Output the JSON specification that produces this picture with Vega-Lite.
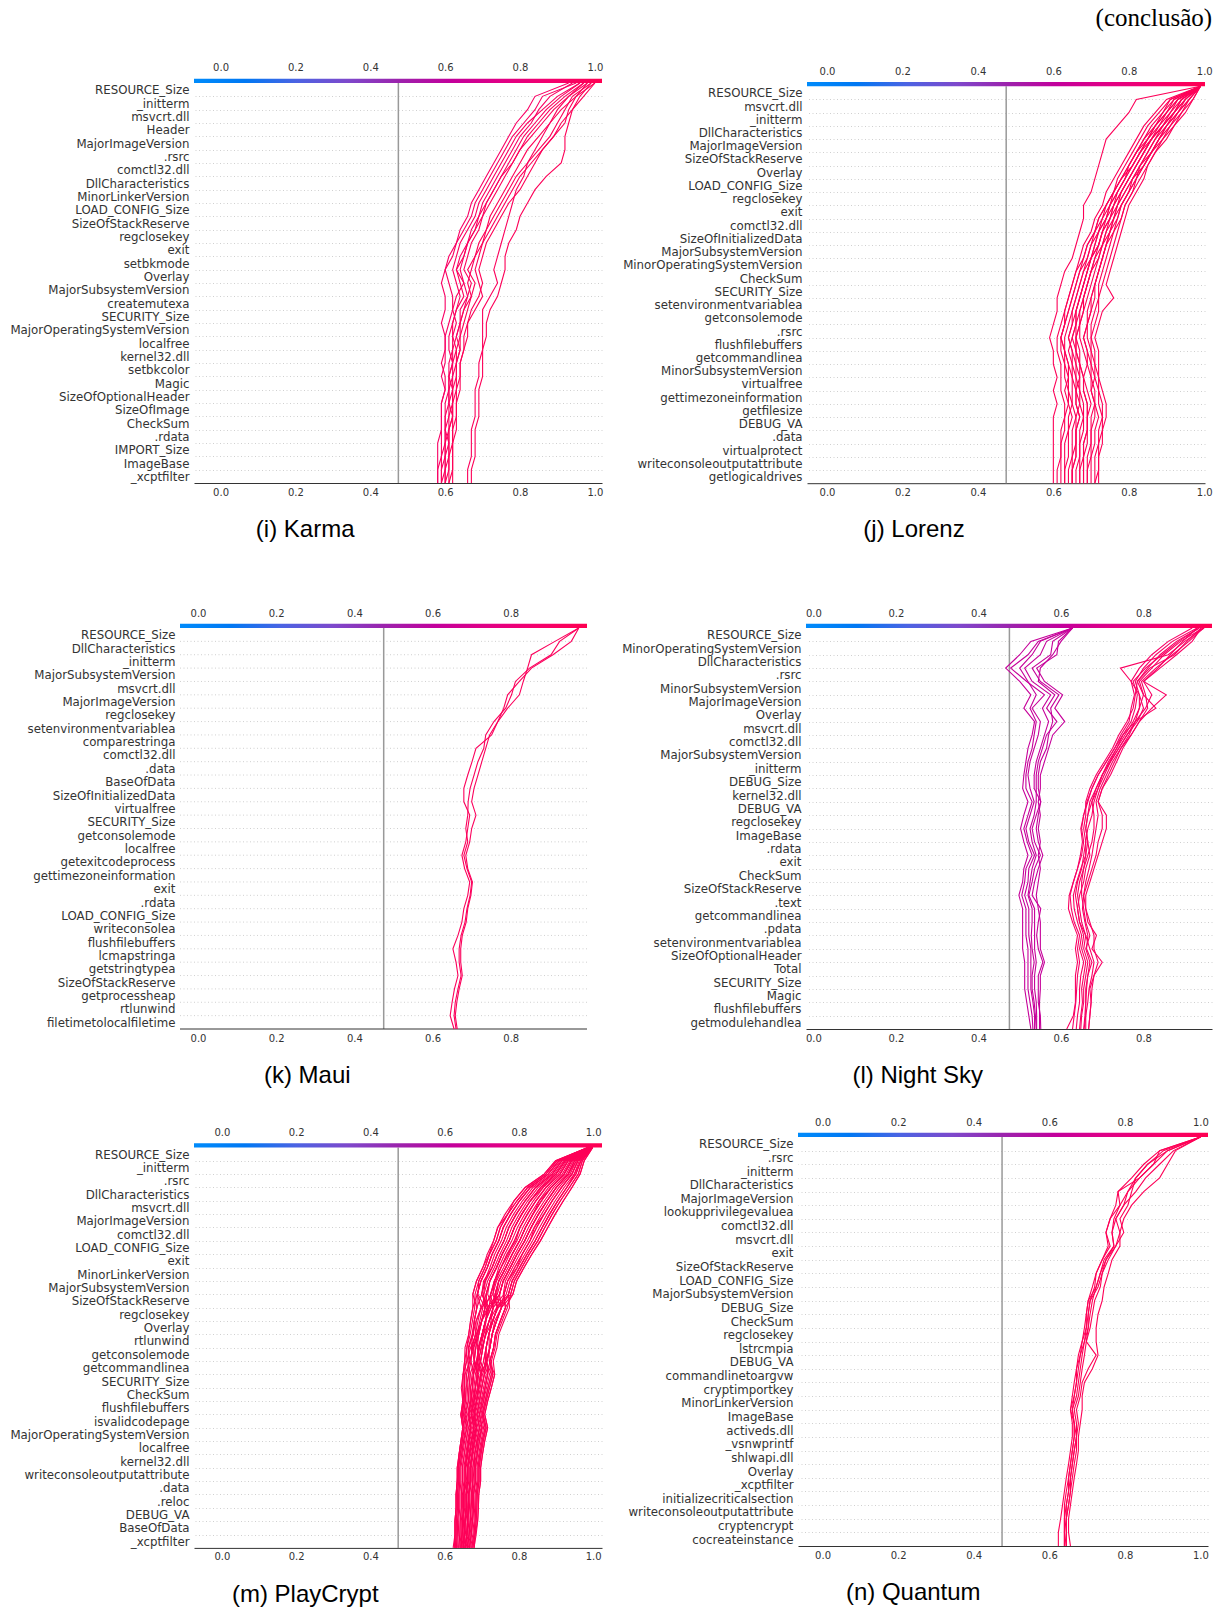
{
"$schema": "https://vega.github.io/schema/vega-lite/v6.json",
"padding": {"left": 0, "right": 0, "top": 5, "bottom": 0},
"title": {"text": "(conclusão)", "anchor": "end", "font": "Liberation Serif", "fontSize": 25, "fontWeight": "normal", "color": "#000000", "offset": 26.6},
"config": {
  "view": {"stroke": null},
  "title": {"font": "Liberation Sans", "fontSize": 24, "fontWeight": "normal", "color": "#000000"},
  "axis": {"labelFont": "DejaVu Sans", "labelColor": "#333333", "ticks": false, "labelFlush": false, "labelOverlap": false, "grid": false, "domain": false},
  "axisBottom": {"domain": true, "domainColor": "#333333", "domainWidth": 1, "labelFontSize": 10, "labelPadding": 4},
  "axisTop": {"labelFontSize": 10},
  "axisLeft": {"labelFontSize": 11.8}
},
"datasets": {"lines": [
{"p":"i","id":"i1","out":0.99,"xs":[0.99,0.96,0.94,0.93,0.92,0.92,0.91,0.87,0.84,0.82,0.80,0.79,0.77,0.76,0.76,0.75,0.74,0.72,0.71,0.71,0.70,0.70,0.70,0.69,0.69,0.69,0.68,0.68,0.68,0.67,0.67]},
{"p":"i","id":"i2","out":0.97,"xs":[0.97,0.93,0.90,0.88,0.86,0.84,0.82,0.81,0.79,0.78,0.77,0.76,0.75,0.74,0.73,0.74,0.72,0.70,0.70,0.70,0.70,0.69,0.69,0.68,0.68,0.68,0.67,0.67,0.67,0.66,0.66]},
{"p":"i","id":"i3","out":1.0,"xs":[1.00,0.95,0.91,0.88,0.85,0.82,0.80,0.78,0.76,0.74,0.72,0.71,0.69,0.68,0.66,0.68,0.67,0.66,0.65,0.64,0.64,0.63,0.63,0.63,0.62,0.62,0.62,0.62,0.61,0.61,0.61]},
{"p":"i","id":"i4","out":0.98,"xs":[0.98,0.93,0.89,0.86,0.83,0.80,0.78,0.76,0.74,0.72,0.70,0.68,0.66,0.65,0.63,0.64,0.65,0.63,0.62,0.62,0.63,0.62,0.61,0.61,0.61,0.62,0.61,0.60,0.60,0.60,0.59]},
{"p":"i","id":"i5","out":0.96,"xs":[0.96,0.90,0.86,0.82,0.79,0.77,0.75,0.73,0.71,0.69,0.68,0.66,0.64,0.63,0.62,0.63,0.64,0.63,0.62,0.61,0.61,0.62,0.61,0.62,0.61,0.61,0.60,0.60,0.60,0.59,0.59]},
{"p":"i","id":"i6","out":0.95,"xs":[0.95,0.86,0.84,0.81,0.78,0.76,0.74,0.72,0.70,0.68,0.67,0.65,0.63,0.62,0.60,0.61,0.62,0.62,0.61,0.60,0.60,0.59,0.60,0.60,0.59,0.59,0.59,0.59,0.59,0.58,0.58]},
{"p":"i","id":"i7","out":0.99,"xs":[0.99,0.94,0.92,0.90,0.88,0.85,0.82,0.79,0.77,0.75,0.73,0.71,0.70,0.69,0.68,0.69,0.70,0.68,0.66,0.65,0.65,0.64,0.64,0.63,0.63,0.63,0.63,0.62,0.62,0.62,0.62]},
{"p":"i","id":"i8","out":0.97,"xs":[0.97,0.92,0.88,0.85,0.82,0.80,0.78,0.75,0.73,0.71,0.70,0.69,0.67,0.66,0.65,0.67,0.66,0.65,0.64,0.63,0.64,0.63,0.62,0.62,0.62,0.61,0.61,0.61,0.61,0.60,0.60]},
{"p":"i","id":"i9","out":0.94,"xs":[0.94,0.88,0.85,0.83,0.80,0.78,0.76,0.74,0.72,0.70,0.69,0.67,0.66,0.64,0.63,0.65,0.66,0.64,0.64,0.63,0.62,0.62,0.62,0.61,0.61,0.60,0.60,0.61,0.60,0.60,0.60]},
{"p":"i","id":"i10","out":1.0,"xs":[1.00,0.97,0.94,0.91,0.89,0.86,0.84,0.82,0.80,0.77,0.75,0.73,0.71,0.70,0.69,0.70,0.69,0.67,0.66,0.66,0.65,0.64,0.64,0.64,0.63,0.63,0.62,0.62,0.62,0.62,0.61]},
{"p":"i","id":"i11","out":0.98,"xs":[0.98,0.95,0.93,0.92,0.89,0.86,0.83,0.80,0.78,0.76,0.74,0.72,0.70,0.68,0.67,0.66,0.67,0.65,0.64,0.64,0.63,0.63,0.63,0.62,0.62,0.62,0.61,0.61,0.61,0.61,0.60]},
{"p":"i","id":"i12","out":0.96,"xs":[0.96,0.91,0.87,0.84,0.81,0.79,0.77,0.75,0.73,0.71,0.69,0.68,0.66,0.65,0.64,0.65,0.63,0.62,0.63,0.62,0.62,0.61,0.61,0.61,0.60,0.60,0.60,0.60,0.59,0.59,0.59]},
{"p":"i","id":"i13","out":0.93,"xs":[0.93,0.84,0.82,0.79,0.77,0.75,0.73,0.71,0.69,0.67,0.66,0.64,0.63,0.61,0.60,0.59,0.60,0.60,0.59,0.60,0.60,0.60,0.59,0.60,0.59,0.59,0.59,0.58,0.58,0.58,0.58]},
{"p":"j","id":"j1","out":0.99,"xs":[0.99,0.82,0.80,0.77,0.74,0.73,0.72,0.71,0.70,0.68,0.68,0.67,0.66,0.65,0.63,0.62,0.61,0.61,0.60,0.59,0.60,0.60,0.61,0.60,0.61,0.60,0.60,0.60,0.60,0.60,0.60]},
{"p":"j","id":"j2","out":0.99,"xs":[0.99,0.95,0.92,0.89,0.86,0.84,0.82,0.80,0.78,0.76,0.75,0.73,0.72,0.70,0.69,0.68,0.67,0.66,0.66,0.65,0.64,0.65,0.65,0.66,0.66,0.67,0.66,0.66,0.65,0.65,0.65]},
{"p":"j","id":"j3","out":0.99,"xs":[0.99,0.93,0.90,0.87,0.85,0.83,0.81,0.78,0.76,0.75,0.73,0.72,0.70,0.69,0.67,0.66,0.65,0.64,0.63,0.62,0.63,0.64,0.64,0.63,0.64,0.63,0.63,0.62,0.62,0.62,0.62]},
{"p":"j","id":"j4","out":0.99,"xs":[0.99,0.96,0.93,0.91,0.88,0.86,0.84,0.82,0.81,0.79,0.78,0.76,0.75,0.74,0.73,0.72,0.72,0.71,0.70,0.70,0.71,0.71,0.72,0.72,0.73,0.73,0.73,0.72,0.72,0.72,0.72]},
{"p":"j","id":"j5","out":0.99,"xs":[0.99,0.94,0.92,0.90,0.87,0.85,0.83,0.81,0.79,0.77,0.76,0.75,0.73,0.72,0.71,0.70,0.69,0.68,0.67,0.67,0.68,0.69,0.68,0.69,0.70,0.69,0.69,0.68,0.68,0.68,0.68]},
{"p":"j","id":"j6","out":0.99,"xs":[0.99,0.92,0.89,0.86,0.84,0.82,0.80,0.79,0.77,0.75,0.74,0.72,0.71,0.70,0.68,0.67,0.66,0.65,0.65,0.64,0.65,0.66,0.66,0.67,0.67,0.68,0.67,0.67,0.67,0.66,0.66]},
{"p":"j","id":"j7","out":0.99,"xs":[0.99,0.97,0.95,0.92,0.90,0.87,0.85,0.84,0.82,0.80,0.79,0.78,0.77,0.76,0.75,0.74,0.76,0.73,0.72,0.71,0.72,0.72,0.72,0.73,0.74,0.74,0.73,0.73,0.72,0.72,0.71]},
{"p":"j","id":"j8","out":0.99,"xs":[0.99,0.91,0.88,0.85,0.83,0.81,0.79,0.77,0.76,0.74,0.72,0.71,0.69,0.68,0.67,0.66,0.65,0.64,0.63,0.62,0.62,0.63,0.63,0.64,0.64,0.65,0.64,0.64,0.64,0.63,0.63]},
{"p":"j","id":"j9","out":0.99,"xs":[0.99,0.95,0.93,0.90,0.88,0.86,0.84,0.82,0.80,0.78,0.77,0.75,0.74,0.73,0.72,0.71,0.70,0.69,0.69,0.68,0.69,0.70,0.70,0.71,0.71,0.72,0.71,0.71,0.70,0.70,0.70]},
{"p":"j","id":"j10","out":0.99,"xs":[0.99,0.93,0.91,0.88,0.86,0.83,0.81,0.79,0.77,0.76,0.74,0.73,0.72,0.71,0.70,0.69,0.68,0.67,0.66,0.66,0.67,0.67,0.68,0.68,0.69,0.69,0.69,0.69,0.68,0.68,0.68]},
{"p":"j","id":"j11","out":0.99,"xs":[0.99,0.90,0.87,0.84,0.82,0.80,0.78,0.76,0.74,0.73,0.71,0.70,0.68,0.67,0.66,0.65,0.64,0.63,0.62,0.61,0.61,0.62,0.62,0.62,0.63,0.63,0.62,0.62,0.62,0.61,0.61]},
{"p":"j","id":"j12","out":0.99,"xs":[0.99,0.96,0.94,0.91,0.89,0.87,0.85,0.83,0.81,0.79,0.78,0.77,0.76,0.75,0.74,0.73,0.72,0.72,0.71,0.70,0.70,0.70,0.71,0.70,0.71,0.70,0.70,0.70,0.69,0.69,0.69]},
{"p":"j","id":"j13","out":0.99,"xs":[0.99,0.94,0.91,0.89,0.86,0.84,0.82,0.80,0.78,0.77,0.75,0.74,0.73,0.71,0.70,0.69,0.68,0.68,0.67,0.66,0.66,0.67,0.67,0.67,0.68,0.68,0.68,0.67,0.67,0.67,0.67]},
{"p":"j","id":"j14","out":0.99,"xs":[0.99,0.92,0.90,0.87,0.85,0.82,0.80,0.78,0.76,0.74,0.73,0.71,0.70,0.69,0.68,0.67,0.66,0.65,0.64,0.63,0.63,0.64,0.65,0.65,0.65,0.66,0.65,0.65,0.65,0.64,0.64]},
{"p":"j","id":"j15","out":0.99,"xs":[0.99,0.95,0.92,0.89,0.87,0.85,0.83,0.82,0.80,0.78,0.76,0.75,0.74,0.73,0.72,0.71,0.70,0.70,0.69,0.69,0.70,0.71,0.71,0.72,0.72,0.73,0.72,0.72,0.71,0.71,0.71]},
{"p":"j","id":"j16","out":0.99,"xs":[0.99,0.97,0.94,0.92,0.89,0.86,0.84,0.81,0.79,0.77,0.76,0.74,0.73,0.72,0.70,0.69,0.68,0.67,0.67,0.66,0.66,0.66,0.67,0.66,0.67,0.66,0.66,0.66,0.66,0.65,0.65]},
{"p":"j","id":"j17","out":0.99,"xs":[0.99,0.91,0.89,0.87,0.84,0.82,0.80,0.78,0.76,0.74,0.72,0.71,0.69,0.68,0.66,0.65,0.64,0.63,0.63,0.62,0.63,0.63,0.64,0.64,0.65,0.64,0.64,0.63,0.63,0.63,0.63]},
{"p":"j","id":"j18","out":0.99,"xs":[0.99,0.94,0.92,0.89,0.86,0.84,0.82,0.80,0.78,0.76,0.75,0.73,0.72,0.70,0.69,0.68,0.67,0.66,0.66,0.65,0.66,0.67,0.68,0.68,0.69,0.69,0.69,0.68,0.68,0.67,0.67]},
{"p":"j","id":"j19","out":0.99,"xs":[0.99,0.96,0.93,0.90,0.88,0.86,0.83,0.81,0.80,0.78,0.77,0.76,0.74,0.73,0.72,0.71,0.71,0.70,0.69,0.68,0.69,0.69,0.70,0.70,0.71,0.71,0.70,0.70,0.70,0.69,0.69]},
{"p":"j","id":"j20","out":0.99,"xs":[0.99,0.93,0.90,0.88,0.85,0.83,0.81,0.79,0.77,0.75,0.74,0.72,0.71,0.70,0.69,0.68,0.67,0.66,0.65,0.64,0.65,0.65,0.66,0.66,0.66,0.67,0.66,0.66,0.66,0.65,0.65]},
{"p":"k","id":"k1","out":0.974,"xs":[0.974,0.955,0.908,0.853,0.822,0.792,0.782,0.767,0.751,0.711,0.701,0.690,0.680,0.680,0.695,0.690,0.685,0.675,0.682,0.695,0.690,0.680,0.675,0.665,0.652,0.660,0.665,0.656,0.650,0.645,0.655]},
{"p":"k","id":"k2","out":0.974,"xs":[0.974,0.925,0.903,0.848,0.812,0.802,0.787,0.757,0.736,0.731,0.716,0.706,0.696,0.691,0.690,0.685,0.690,0.680,0.688,0.700,0.696,0.688,0.683,0.673,0.668,0.668,0.673,0.665,0.658,0.655,0.660]},
{"p":"k","id":"k3","out":0.974,"xs":[0.974,0.913,0.853,0.843,0.832,0.822,0.792,0.767,0.746,0.736,0.726,0.716,0.706,0.700,0.711,0.700,0.695,0.685,0.690,0.702,0.698,0.690,0.686,0.676,0.672,0.672,0.676,0.668,0.662,0.658,0.663]},
{"p":"l","id":"l1","out":0.628,"xs":[0.628,0.527,0.50,0.466,0.50,0.527,0.51,0.536,0.53,0.52,0.515,0.51,0.507,0.52,0.51,0.502,0.51,0.52,0.51,0.507,0.498,0.507,0.507,0.507,0.507,0.512,0.512,0.512,0.517,0.522,0.527]},
{"p":"l","id":"l2","out":0.628,"xs":[0.628,0.545,0.52,0.478,0.517,0.56,0.53,0.55,0.545,0.535,0.525,0.52,0.525,0.535,0.525,0.515,0.522,0.536,0.522,0.52,0.512,0.522,0.522,0.522,0.527,0.527,0.527,0.527,0.532,0.536,0.536]},
{"p":"l","id":"l3","out":0.628,"xs":[0.628,0.565,0.55,0.512,0.53,0.575,0.555,0.57,0.56,0.55,0.54,0.535,0.535,0.551,0.54,0.53,0.536,0.55,0.536,0.53,0.522,0.536,0.536,0.536,0.536,0.54,0.536,0.536,0.54,0.541,0.541]},
{"p":"l","id":"l4","out":0.628,"xs":[0.628,0.58,0.575,0.53,0.55,0.595,0.575,0.58,0.57,0.565,0.55,0.545,0.545,0.551,0.545,0.54,0.545,0.556,0.545,0.536,0.53,0.551,0.545,0.541,0.545,0.556,0.545,0.545,0.545,0.55,0.551]},
{"p":"l","id":"l5","out":0.628,"xs":[0.628,0.594,0.59,0.541,0.56,0.604,0.585,0.609,0.58,0.57,0.56,0.55,0.55,0.545,0.55,0.545,0.55,0.545,0.55,0.545,0.54,0.545,0.55,0.55,0.55,0.56,0.55,0.55,0.548,0.548,0.548]},
{"p":"l","id":"l6","out":0.628,"xs":[0.628,0.55,0.53,0.50,0.52,0.54,0.525,0.54,0.535,0.53,0.52,0.515,0.515,0.53,0.52,0.51,0.518,0.53,0.515,0.512,0.505,0.515,0.515,0.515,0.52,0.52,0.52,0.52,0.525,0.53,0.532]},
{"p":"l","id":"l7","out":0.628,"xs":[0.628,0.60,0.58,0.55,0.545,0.585,0.565,0.59,0.565,0.555,0.545,0.54,0.54,0.54,0.535,0.525,0.53,0.54,0.53,0.525,0.52,0.53,0.53,0.528,0.53,0.535,0.53,0.53,0.535,0.538,0.54]},
{"p":"l","id":"l8","out":0.947,"xs":[0.947,0.90,0.86,0.744,0.77,0.79,0.79,0.78,0.75,0.73,0.71,0.69,0.675,0.665,0.655,0.65,0.655,0.65,0.64,0.63,0.62,0.618,0.628,0.64,0.635,0.64,0.635,0.635,0.635,0.63,0.614]},
{"p":"l","id":"l9","out":0.94,"xs":[0.94,0.918,0.88,0.84,0.80,0.855,0.82,0.79,0.77,0.75,0.735,0.72,0.70,0.69,0.70,0.70,0.69,0.685,0.675,0.665,0.655,0.66,0.665,0.686,0.675,0.70,0.68,0.67,0.673,0.67,0.667]},
{"p":"l","id":"l10","out":0.93,"xs":[0.93,0.87,0.83,0.80,0.78,0.79,0.80,0.785,0.76,0.74,0.72,0.70,0.685,0.675,0.68,0.68,0.675,0.665,0.655,0.645,0.64,0.645,0.65,0.66,0.655,0.665,0.66,0.655,0.655,0.65,0.648]},
{"p":"l","id":"l11","out":0.945,"xs":[0.945,0.89,0.85,0.82,0.79,0.80,0.79,0.775,0.755,0.735,0.715,0.70,0.69,0.68,0.675,0.665,0.66,0.655,0.65,0.64,0.635,0.64,0.645,0.655,0.65,0.66,0.655,0.65,0.652,0.648,0.645]},
{"p":"l","id":"l12","out":0.935,"xs":[0.935,0.88,0.84,0.81,0.785,0.78,0.775,0.76,0.74,0.725,0.705,0.685,0.67,0.66,0.66,0.655,0.66,0.66,0.655,0.65,0.65,0.655,0.66,0.67,0.66,0.67,0.665,0.66,0.66,0.658,0.655]},
{"p":"l","id":"l13","out":0.945,"xs":[0.945,0.91,0.87,0.83,0.795,0.805,0.81,0.79,0.77,0.745,0.73,0.715,0.70,0.69,0.71,0.71,0.70,0.69,0.68,0.67,0.66,0.66,0.67,0.68,0.68,0.69,0.68,0.675,0.673,0.67,0.667]},
{"p":"l","id":"l14","out":0.918,"xs":[0.918,0.86,0.82,0.79,0.77,0.778,0.77,0.765,0.745,0.73,0.71,0.69,0.675,0.663,0.655,0.648,0.652,0.647,0.64,0.63,0.622,0.625,0.632,0.645,0.64,0.645,0.64,0.638,0.636,0.632,0.628]},
{"p":"l","id":"l15","out":0.93,"xs":[0.93,0.895,0.865,0.835,0.80,0.82,0.805,0.78,0.765,0.745,0.725,0.71,0.695,0.685,0.69,0.685,0.68,0.675,0.668,0.66,0.655,0.652,0.658,0.665,0.662,0.675,0.665,0.662,0.66,0.66,0.656]},
{"p":"l","id":"l16","out":0.94,"xs":[0.94,0.905,0.875,0.815,0.785,0.80,0.83,0.78,0.76,0.74,0.72,0.705,0.69,0.675,0.665,0.66,0.665,0.66,0.648,0.638,0.63,0.632,0.64,0.65,0.645,0.655,0.648,0.645,0.645,0.64,0.637]},
{"p":"l","id":"l17","out":0.935,"xs":[0.935,0.885,0.845,0.805,0.775,0.785,0.78,0.77,0.75,0.735,0.718,0.70,0.685,0.67,0.665,0.66,0.665,0.67,0.66,0.655,0.645,0.64,0.645,0.66,0.67,0.68,0.675,0.668,0.665,0.66,0.66]},
{"p":"m","id":"m1","out":0.986,"xs":[0.986,0.899,0.868,0.817,0.787,0.763,0.743,0.732,0.72,0.703,0.686,0.676,0.676,0.67,0.665,0.66,0.654,0.65,0.649,0.652,0.644,0.649,0.644,0.639,0.637,0.634,0.631,0.631,0.628,0.628,0.626]},
{"p":"m","id":"m2","out":0.987,"xs":[0.987,0.908,0.879,0.831,0.802,0.778,0.758,0.746,0.728,0.715,0.698,0.688,0.698,0.685,0.683,0.674,0.671,0.678,0.67,0.671,0.665,0.671,0.665,0.66,0.655,0.66,0.651,0.651,0.648,0.647,0.644]},
{"p":"m","id":"m3","out":0.989,"xs":[0.989,0.916,0.89,0.845,0.817,0.793,0.773,0.76,0.742,0.728,0.705,0.7,0.687,0.68,0.674,0.664,0.668,0.659,0.658,0.656,0.651,0.66,0.651,0.646,0.641,0.641,0.638,0.638,0.635,0.634,0.632]},
{"p":"m","id":"m4","out":0.99,"xs":[0.99,0.925,0.9,0.859,0.831,0.808,0.788,0.774,0.755,0.74,0.722,0.712,0.715,0.71,0.701,0.693,0.688,0.7,0.692,0.686,0.68,0.686,0.676,0.674,0.669,0.669,0.665,0.664,0.662,0.66,0.655]},
{"p":"m","id":"m5","out":0.992,"xs":[0.992,0.933,0.911,0.873,0.846,0.823,0.803,0.792,0.768,0.752,0.734,0.724,0.709,0.7,0.688,0.684,0.68,0.669,0.666,0.664,0.655,0.664,0.658,0.653,0.648,0.648,0.645,0.645,0.642,0.641,0.638]},
{"p":"m","id":"m6","out":0.993,"xs":[0.993,0.942,0.922,0.887,0.855,0.838,0.818,0.802,0.782,0.765,0.746,0.74,0.731,0.72,0.71,0.703,0.697,0.688,0.69,0.679,0.672,0.679,0.672,0.667,0.662,0.662,0.658,0.658,0.655,0.653,0.65]},
{"p":"m","id":"m7","out":0.995,"xs":[0.995,0.95,0.933,0.901,0.876,0.853,0.833,0.816,0.795,0.777,0.758,0.748,0.725,0.71,0.701,0.69,0.688,0.678,0.675,0.671,0.665,0.671,0.665,0.662,0.655,0.655,0.651,0.651,0.648,0.647,0.644]},
{"p":"m","id":"m8","out":0.996,"xs":[0.996,0.959,0.943,0.915,0.89,0.868,0.848,0.83,0.809,0.795,0.77,0.76,0.753,0.74,0.728,0.722,0.71,0.707,0.7,0.694,0.687,0.694,0.687,0.681,0.676,0.676,0.675,0.671,0.669,0.666,0.661]},
{"p":"m","id":"m9","out":0.998,"xs":[0.998,0.967,0.95,0.929,0.905,0.883,0.863,0.844,0.822,0.802,0.782,0.772,0.753,0.735,0.728,0.722,0.714,0.697,0.692,0.686,0.68,0.686,0.68,0.674,0.669,0.669,0.665,0.664,0.662,0.66,0.655]},
{"p":"m","id":"m10","out":0.999,"xs":[0.999,0.976,0.965,0.943,0.92,0.898,0.878,0.858,0.835,0.814,0.794,0.784,0.764,0.75,0.737,0.732,0.722,0.716,0.709,0.705,0.694,0.701,0.694,0.688,0.683,0.683,0.678,0.678,0.675,0.672,0.667]},
{"p":"m","id":"m11","out":0.986,"xs":[0.986,0.899,0.868,0.817,0.787,0.77,0.743,0.732,0.715,0.703,0.686,0.676,0.687,0.68,0.678,0.664,0.663,0.669,0.666,0.664,0.658,0.664,0.658,0.653,0.648,0.648,0.645,0.645,0.642,0.641,0.638]},
{"p":"m","id":"m12","out":0.987,"xs":[0.987,0.908,0.879,0.831,0.802,0.778,0.758,0.746,0.728,0.715,0.698,0.688,0.676,0.67,0.665,0.655,0.654,0.65,0.645,0.649,0.644,0.649,0.644,0.639,0.634,0.634,0.631,0.631,0.628,0.628,0.623]},
{"p":"m","id":"m13","out":0.989,"xs":[0.989,0.916,0.89,0.845,0.817,0.793,0.773,0.76,0.742,0.728,0.71,0.705,0.709,0.7,0.692,0.684,0.68,0.688,0.683,0.679,0.672,0.685,0.672,0.667,0.662,0.662,0.658,0.658,0.655,0.653,0.65]},
{"p":"m","id":"m14","out":0.99,"xs":[0.99,0.925,0.9,0.865,0.831,0.808,0.788,0.774,0.755,0.74,0.722,0.712,0.698,0.69,0.683,0.674,0.671,0.665,0.658,0.656,0.651,0.656,0.651,0.646,0.641,0.641,0.638,0.638,0.635,0.634,0.632]},
{"p":"m","id":"m15","out":0.992,"xs":[0.992,0.933,0.911,0.873,0.846,0.823,0.803,0.788,0.772,0.752,0.734,0.724,0.731,0.72,0.71,0.703,0.697,0.707,0.7,0.694,0.687,0.694,0.687,0.681,0.68,0.676,0.672,0.671,0.669,0.666,0.661]},
{"p":"m","id":"m16","out":0.993,"xs":[0.993,0.942,0.922,0.887,0.861,0.838,0.818,0.802,0.782,0.765,0.746,0.736,0.742,0.73,0.719,0.712,0.712,0.726,0.717,0.709,0.701,0.709,0.701,0.695,0.69,0.69,0.685,0.684,0.682,0.679,0.673]},
{"p":"m","id":"m17","out":0.995,"xs":[0.995,0.955,0.933,0.901,0.876,0.853,0.833,0.816,0.795,0.777,0.758,0.748,0.742,0.73,0.719,0.712,0.705,0.697,0.692,0.686,0.676,0.686,0.68,0.674,0.669,0.669,0.665,0.664,0.662,0.66,0.655]},
{"p":"m","id":"m18","out":0.996,"xs":[0.996,0.959,0.943,0.915,0.89,0.868,0.842,0.83,0.809,0.789,0.77,0.76,0.731,0.72,0.71,0.703,0.697,0.688,0.683,0.679,0.672,0.679,0.672,0.667,0.662,0.662,0.658,0.658,0.655,0.653,0.65]},
{"p":"m","id":"m19","out":0.998,"xs":[0.998,0.967,0.954,0.929,0.905,0.883,0.863,0.844,0.822,0.802,0.782,0.772,0.775,0.76,0.746,0.741,0.731,0.735,0.726,0.716,0.708,0.716,0.708,0.702,0.697,0.697,0.692,0.691,0.689,0.682,0.68]},
{"p":"m","id":"m20","out":0.999,"xs":[0.999,0.976,0.965,0.943,0.92,0.898,0.878,0.858,0.835,0.814,0.794,0.784,0.753,0.74,0.728,0.722,0.714,0.707,0.7,0.694,0.687,0.694,0.687,0.681,0.676,0.676,0.672,0.671,0.669,0.666,0.661]},
{"p":"m","id":"m21","out":0.992,"xs":[0.992,0.933,0.911,0.873,0.846,0.823,0.803,0.788,0.768,0.752,0.738,0.724,0.72,0.71,0.701,0.693,0.688,0.688,0.683,0.675,0.672,0.679,0.672,0.667,0.662,0.662,0.658,0.66,0.655,0.653,0.65]},
{"p":"m","id":"m22","out":0.993,"xs":[0.993,0.942,0.922,0.887,0.861,0.838,0.818,0.802,0.782,0.765,0.746,0.736,0.726,0.71,0.701,0.693,0.688,0.678,0.675,0.671,0.665,0.671,0.665,0.66,0.655,0.655,0.651,0.651,0.648,0.647,0.644]},
{"p":"m","id":"m23","out":0.99,"xs":[0.99,0.925,0.9,0.859,0.831,0.808,0.788,0.774,0.755,0.74,0.722,0.712,0.709,0.7,0.692,0.678,0.68,0.678,0.675,0.671,0.665,0.671,0.665,0.66,0.655,0.655,0.651,0.651,0.652,0.647,0.644]},
{"p":"m","id":"m24","out":0.995,"xs":[0.995,0.95,0.933,0.901,0.876,0.853,0.833,0.816,0.795,0.777,0.758,0.748,0.753,0.74,0.728,0.722,0.714,0.716,0.709,0.701,0.694,0.701,0.69,0.688,0.683,0.683,0.678,0.678,0.675,0.672,0.667]},
{"p":"m","id":"m25","out":0.989,"xs":[0.989,0.916,0.89,0.845,0.817,0.793,0.773,0.76,0.742,0.728,0.71,0.7,0.72,0.71,0.701,0.693,0.688,0.697,0.692,0.686,0.68,0.686,0.68,0.674,0.669,0.669,0.665,0.664,0.662,0.66,0.655]},
{"p":"m","id":"m26","out":0.996,"xs":[0.996,0.959,0.943,0.915,0.89,0.868,0.848,0.83,0.809,0.789,0.77,0.76,0.764,0.75,0.737,0.732,0.722,0.726,0.717,0.709,0.701,0.709,0.701,0.695,0.69,0.69,0.685,0.684,0.682,0.679,0.673]},
{"p":"m","id":"m27","out":0.986,"xs":[0.986,0.903,0.873,0.824,0.795,0.77,0.75,0.739,0.721,0.709,0.692,0.682,0.681,0.675,0.669,0.66,0.658,0.654,0.653,0.652,0.647,0.652,0.647,0.642,0.637,0.637,0.634,0.634,0.631,0.631,0.629]},
{"p":"m","id":"m28","out":0.998,"xs":[0.998,0.971,0.96,0.936,0.912,0.89,0.87,0.851,0.828,0.808,0.788,0.778,0.769,0.755,0.741,0.736,0.726,0.73,0.721,0.712,0.704,0.712,0.704,0.698,0.693,0.693,0.688,0.687,0.685,0.682,0.676]},
{"p":"m","id":"m29","out":0.988,"xs":[0.988,0.912,0.885,0.838,0.81,0.786,0.766,0.753,0.735,0.722,0.708,0.70,0.715,0.712,0.705,0.698,0.692,0.702,0.696,0.69,0.683,0.69,0.683,0.677,0.672,0.672,0.668,0.667,0.665,0.663,0.658]},
{"p":"m","id":"m30","out":0.997,"xs":[0.997,0.963,0.949,0.922,0.898,0.876,0.856,0.837,0.816,0.796,0.776,0.766,0.74,0.72,0.705,0.693,0.685,0.674,0.67,0.668,0.662,0.668,0.662,0.657,0.652,0.652,0.648,0.648,0.645,0.644,0.641]},
{"p":"m","id":"m31","out":0.991,"xs":[0.991,0.929,0.906,0.866,0.839,0.816,0.796,0.781,0.762,0.746,0.735,0.73,0.742,0.73,0.719,0.712,0.71,0.721,0.713,0.705,0.698,0.705,0.698,0.692,0.687,0.687,0.682,0.681,0.679,0.676,0.67]},
{"p":"m","id":"m32","out":0.994,"xs":[0.994,0.946,0.928,0.894,0.869,0.846,0.826,0.809,0.789,0.771,0.752,0.742,0.715,0.70,0.688,0.676,0.668,0.655,0.654,0.653,0.648,0.653,0.648,0.643,0.638,0.638,0.635,0.635,0.632,0.631,0.629]},
{"p":"m","id":"m33","out":0.99,"xs":[0.99,0.921,0.895,0.852,0.824,0.801,0.781,0.767,0.749,0.734,0.716,0.706,0.703,0.695,0.687,0.679,0.68,0.692,0.688,0.682,0.676,0.682,0.676,0.67,0.665,0.665,0.661,0.661,0.658,0.656,0.652]},
{"p":"m","id":"m34","out":0.996,"xs":[0.996,0.955,0.938,0.908,0.883,0.861,0.841,0.823,0.802,0.783,0.764,0.758,0.764,0.75,0.737,0.732,0.722,0.73,0.721,0.712,0.704,0.712,0.704,0.698,0.693,0.693,0.688,0.687,0.685,0.682,0.676]},
{"p":"m","id":"m35","out":0.993,"xs":[0.993,0.938,0.917,0.88,0.854,0.831,0.811,0.795,0.775,0.759,0.74,0.73,0.70,0.685,0.676,0.666,0.663,0.664,0.662,0.66,0.654,0.66,0.654,0.649,0.644,0.644,0.641,0.641,0.638,0.637,0.635]},
{"p":"m","id":"m36","out":0.986,"xs":[0.986,0.903,0.873,0.824,0.795,0.77,0.75,0.739,0.721,0.709,0.692,0.69,0.709,0.70,0.692,0.688,0.695,0.712,0.705,0.698,0.69,0.698,0.69,0.685,0.68,0.68,0.675,0.675,0.672,0.669,0.664]},
{"p":"m","id":"m37","out":0.998,"xs":[0.998,0.971,0.96,0.936,0.912,0.89,0.87,0.851,0.828,0.808,0.788,0.778,0.745,0.728,0.712,0.70,0.69,0.683,0.679,0.675,0.668,0.675,0.668,0.663,0.658,0.658,0.654,0.654,0.651,0.65,0.647]},
{"p":"m","id":"m38","out":0.99,"xs":[0.990,0.925,0.900,0.859,0.831,0.808,0.788,0.774,0.755,0.740,0.722,0.716,0.731,0.725,0.72,0.72,0.72,0.735,0.726,0.716,0.708,0.716,0.708,0.702,0.697,0.697,0.692,0.691,0.689,0.685,0.679]},
{"p":"m","id":"m39","out":0.995,"xs":[0.995,0.950,0.933,0.901,0.876,0.853,0.833,0.816,0.795,0.777,0.758,0.748,0.72,0.70,0.685,0.67,0.66,0.65,0.649,0.649,0.644,0.649,0.644,0.639,0.634,0.634,0.631,0.631,0.628,0.628,0.626]},
{"p":"m","id":"m40","out":0.987,"xs":[0.987,0.908,0.879,0.831,0.802,0.778,0.758,0.746,0.728,0.715,0.698,0.688,0.687,0.68,0.676,0.672,0.68,0.688,0.683,0.679,0.672,0.679,0.672,0.667,0.662,0.662,0.658,0.658,0.655,0.653,0.65]},
{"p":"m","id":"m41","out":0.993,"xs":[0.993,0.942,0.922,0.887,0.861,0.838,0.818,0.802,0.782,0.765,0.746,0.736,0.753,0.74,0.728,0.722,0.714,0.697,0.692,0.686,0.680,0.686,0.680,0.674,0.669,0.669,0.665,0.664,0.662,0.660,0.655]},
{"p":"m","id":"m42","out":0.998,"xs":[0.998,0.967,0.954,0.929,0.905,0.883,0.863,0.844,0.822,0.802,0.782,0.772,0.742,0.730,0.719,0.712,0.705,0.716,0.709,0.701,0.694,0.701,0.694,0.688,0.683,0.683,0.678,0.678,0.675,0.672,0.667]},
{"p":"n","id":"n1","out":1.0,"xs":[1.0,0.892,0.85,0.818,0.782,0.776,0.761,0.75,0.761,0.74,0.724,0.714,0.703,0.698,0.693,0.687,0.677,0.672,0.666,0.661,0.656,0.661,0.661,0.656,0.651,0.645,0.64,0.635,0.63,0.624,0.624]},
{"p":"n","id":"n2","out":1.0,"xs":[1.0,0.913,0.876,0.839,0.808,0.787,0.771,0.766,0.771,0.745,0.735,0.724,0.714,0.708,0.703,0.693,0.687,0.682,0.677,0.672,0.661,0.666,0.666,0.661,0.656,0.651,0.651,0.645,0.64,0.64,0.64]},
{"p":"n","id":"n3","out":1.0,"xs":[1.0,0.929,0.892,0.855,0.829,0.797,0.776,0.766,0.771,0.75,0.74,0.735,0.72,0.714,0.708,0.698,0.693,0.687,0.682,0.677,0.666,0.672,0.672,0.666,0.661,0.656,0.656,0.651,0.645,0.645,0.645]},
{"p":"n","id":"n4","out":1.0,"xs":[1.0,0.934,0.913,0.892,0.85,0.818,0.797,0.787,0.787,0.766,0.756,0.745,0.74,0.729,0.724,0.724,0.729,0.714,0.693,0.687,0.687,0.682,0.677,0.677,0.672,0.666,0.661,0.656,0.651,0.651,0.656]},
{"p":"n","id":"n5","out":1.0,"xs":[1.0,0.902,0.86,0.829,0.818,0.808,0.787,0.797,0.776,0.756,0.74,0.729,0.708,0.703,0.703,0.698,0.724,0.703,0.687,0.682,0.672,0.677,0.672,0.666,0.661,0.656,0.651,0.645,0.645,0.645,0.645]},
{"p":"n","id":"n6","out":1.0,"xs":[1.0,0.913,0.86,0.829,0.808,0.797,0.776,0.787,0.776,0.75,0.735,0.724,0.703,0.698,0.698,0.693,0.682,0.677,0.672,0.666,0.661,0.666,0.666,0.661,0.656,0.651,0.645,0.64,0.64,0.64,0.64]},
{"p":"n","id":"n7","out":1.0,"xs":[1.0,0.892,0.876,0.839,0.782,0.787,0.761,0.75,0.756,0.74,0.724,0.72,0.708,0.703,0.698,0.687,0.682,0.672,0.672,0.666,0.656,0.666,0.672,0.672,0.666,0.661,0.656,0.651,0.645,0.64,0.645]}
]},
"columns": 1,
"align": "none",
"spacing": 20,
"concat": [
{"columns": 2, "align": "none", "spacing": 10, "concat": [
 {"width": 408, "height": 400,
  "title": {"text": "(i) Karma", "orient": "bottom", "frame": "bounds", "offset": 20.8, "dx": 3.5},
  "resolve": {"axis": {"x": "independent", "y": "independent"}},
  "layer": [
   {"data": {"values": [{"base": 0.475}]},
    "mark": {"type": "rule", "color": "#999999", "strokeWidth": 1.5},
    "encoding": {
     "x": {"field": "base", "type": "quantitative", "scale": {"domain": [-0.071, 1.019], "nice": false, "zero": false}, "axis": null},
     "y": {"datum": 1, "type": "quantitative", "scale": {"domain": [1, 31], "reverse": true, "nice": false, "zero": false}, "axis": {"orient": "right", "grid": true, "gridColor": "#c4c4c4", "gridDash": [1, 2.5], "gridWidth": 0.8, "labels": false, "ticks": false, "domain": false, "title": null, "values": [2,3,4,5,6,7,8,9,10,11,12,13,14,15,16,17,18,19,20,21,22,23,24,25,26,27,28,29,30], "minExtent": 0, "maxExtent": 0}},
     "y2": {"datum": 31}}},
   {"data": {"name": "lines"},
    "transform": [{"filter": "datum.p == 'i'"}, {"flatten": ["xs"], "as": ["x"]}, {"window": [{"op": "row_number", "as": "k"}], "groupby": ["id"]}],
    "mark": {"type": "line", "strokeWidth": 1.1},
    "encoding": {
     "x": {"field": "x", "type": "quantitative", "axis": {"orient": "bottom", "values": [0, 0.2, 0.4, 0.6, 0.8, 1], "format": ".1f", "title": null}},
     "y": {"field": "k", "type": "quantitative", "axis": {"orient": "left", "values": [1.5,2.5,3.5,4.5,5.5,6.5,7.5,8.5,9.5,10.5,11.5,12.5,13.5,14.5,15.5,16.5,17.5,18.5,19.5,20.5,21.5,22.5,23.5,24.5,25.5,26.5,27.5,28.5,29.5,30.5], "labelExpr": "['RESOURCE_Size','_initterm','msvcrt.dll','Header','MajorImageVersion','.rsrc','comctl32.dll','DllCharacteristics','MinorLinkerVersion','LOAD_CONFIG_Size','SizeOfStackReserve','regclosekey','exit','setbkmode','Overlay','MajorSubsystemVersion','createmutexa','SECURITY_Size','MajorOperatingSystemVersion','localfree','kernel32.dll','setbkcolor','Magic','SizeOfOptionalHeader','SizeOfImage','CheckSum','.rdata','IMPORT_Size','ImageBase','_xcptfilter'][floor(datum.value)-1]", "title": null, "ticks": true, "tickColor": "#ffffff", "tickSize": 193, "labelPadding": -188}},
     "detail": {"field": "id", "type": "nominal"},
     "order": {"field": "k", "type": "quantitative"},
     "color": {"field": "out", "type": "quantitative", "scale": {"domain": [-0.071, 0.065, 0.202, 0.338, 0.474, 0.610, 0.747, 0.883, 1.019], "range": ["#008bfb","#0078f3","#4b63e3","#7d49cc","#9b23ad","#c2009c","#e00086","#f5006d","#ff0051"]}, "legend": null}}},
   {"data": {"values": [{}]},
    "mark": {"type": "rect", "fill": {"gradient": "linear", "x1": 0, "y1": 0, "x2": 1, "y2": 0, "stops": [{"offset": 0, "color": "#008bfb"}, {"offset": 0.125, "color": "#0078f3"}, {"offset": 0.25, "color": "#4b63e3"}, {"offset": 0.375, "color": "#7d49cc"}, {"offset": 0.5, "color": "#9b23ad"}, {"offset": 0.625, "color": "#c2009c"}, {"offset": 0.75, "color": "#e00086"}, {"offset": 0.875, "color": "#f5006d"}, {"offset": 1, "color": "#ff0051"}]}},
    "encoding": {
     "x": {"datum": -0.071, "type": "quantitative", "axis": {"orient": "top", "values": [0, 0.2, 0.4, 0.6, 0.8, 1], "format": ".1f", "title": null, "ticks": true, "tickColor": "#ffffff", "tickSize": 25, "labelPadding": -14}},
     "x2": {"datum": 1.019},
     "y": {"datum": 0.68, "type": "quantitative", "axis": null},
     "y2": {"datum": 1}}}
  ]},
 {"width": 398, "height": 400.2,
  "title": {"text": "(j) Lorenz", "orient": "bottom", "frame": "bounds", "offset": 20.8, "dx": 1},
  "resolve": {"axis": {"x": "independent", "y": "independent"}},
  "layer": [
   {"data": {"values": [{"base": 0.475}]},
    "mark": {"type": "rule", "color": "#999999", "strokeWidth": 1.5},
    "encoding": {
     "x": {"field": "base", "type": "quantitative", "scale": {"domain": [-0.053, 1.002], "nice": false, "zero": false}, "axis": null},
     "y": {"datum": 1, "type": "quantitative", "scale": {"domain": [0.758, 31], "reverse": true, "nice": false, "zero": false}, "axis": {"orient": "right", "grid": true, "gridColor": "#c4c4c4", "gridDash": [1, 2.5], "gridWidth": 0.8, "labels": false, "ticks": false, "domain": false, "title": null, "values": [2,3,4,5,6,7,8,9,10,11,12,13,14,15,16,17,18,19,20,21,22,23,24,25,26,27,28,29,30], "minExtent": 0, "maxExtent": 0}},
     "y2": {"datum": 31}}},
   {"data": {"name": "lines"},
    "transform": [{"filter": "datum.p == 'j'"}, {"flatten": ["xs"], "as": ["x"]}, {"window": [{"op": "row_number", "as": "k"}], "groupby": ["id"]}],
    "mark": {"type": "line", "strokeWidth": 1.1},
    "encoding": {
     "x": {"field": "x", "type": "quantitative", "axis": {"orient": "bottom", "values": [0, 0.2, 0.4, 0.6, 0.8, 1], "format": ".1f", "title": null}},
     "y": {"field": "k", "type": "quantitative", "axis": {"orient": "left", "values": [1.5,2.5,3.5,4.5,5.5,6.5,7.5,8.5,9.5,10.5,11.5,12.5,13.5,14.5,15.5,16.5,17.5,18.5,19.5,20.5,21.5,22.5,23.5,24.5,25.5,26.5,27.5,28.5,29.5,30.5], "labelExpr": "['RESOURCE_Size','msvcrt.dll','_initterm','DllCharacteristics','MajorImageVersion','SizeOfStackReserve','Overlay','LOAD_CONFIG_Size','regclosekey','exit','comctl32.dll','SizeOfInitializedData','MajorSubsystemVersion','MinorOperatingSystemVersion','CheckSum','SECURITY_Size','setenvironmentvariablea','getconsolemode','.rsrc','flushfilebuffers','getcommandlinea','MinorSubsystemVersion','virtualfree','gettimezoneinformation','getfilesize','DEBUG_VA','.data','virtualprotect','writeconsoleoutputattribute','getlogicaldrives'][floor(datum.value)-1]", "title": null, "ticks": true, "tickColor": "#ffffff", "tickSize": 192.7, "labelPadding": -187.7}},
     "detail": {"field": "id", "type": "nominal"},
     "order": {"field": "k", "type": "quantitative"},
     "color": {"field": "out", "type": "quantitative", "scale": {"domain": [-0.053, 0.079, 0.211, 0.343, 0.475, 0.606, 0.738, 0.870, 1.002], "range": ["#008bfb","#0078f3","#4b63e3","#7d49cc","#9b23ad","#c2009c","#e00086","#f5006d","#ff0051"]}, "legend": null}}},
   {"data": {"values": [{}]},
    "mark": {"type": "rect", "fill": {"gradient": "linear", "x1": 0, "y1": 0, "x2": 1, "y2": 0, "stops": [{"offset": 0, "color": "#008bfb"}, {"offset": 0.125, "color": "#0078f3"}, {"offset": 0.25, "color": "#4b63e3"}, {"offset": 0.375, "color": "#7d49cc"}, {"offset": 0.5, "color": "#9b23ad"}, {"offset": 0.625, "color": "#c2009c"}, {"offset": 0.75, "color": "#e00086"}, {"offset": 0.875, "color": "#f5006d"}, {"offset": 1, "color": "#ff0051"}]}},
    "encoding": {
     "x": {"datum": -0.053, "type": "quantitative", "axis": {"orient": "top", "values": [0, 0.2, 0.4, 0.6, 0.8, 1], "format": ".1f", "title": null, "ticks": true, "tickColor": "#ffffff", "tickSize": 25, "labelPadding": -18.2}},
     "x2": {"datum": 1.002},
     "y": {"datum": 0.68, "type": "quantitative", "axis": null},
     "y2": {"datum": 1}}}
  ]}
]},
{"columns": 2, "align": "none", "spacing": 10, "concat": [
 {"width": 393, "height": 401,
  "title": {"text": "(k) Maui", "orient": "bottom", "frame": "bounds", "offset": 20.8, "dx": 0},
  "resolve": {"axis": {"x": "independent", "y": "independent"}},
  "layer": [
   {"data": {"values": [{"g":2},{"g":3},{"g":4},{"g":5},{"g":6},{"g":7},{"g":8},{"g":9},{"g":10},{"g":11},{"g":12},{"g":13},{"g":14},{"g":15},{"g":16},{"g":17},{"g":18},{"g":19},{"g":20},{"g":21},{"g":22},{"g":23},{"g":24},{"g":25},{"g":26},{"g":27},{"g":28},{"g":29},{"g":30}]},
    "mark": {"type": "rule", "color": "#c4c4c4", "strokeDash": [1, 2.5], "strokeWidth": 0.8},
    "encoding": {
     "x": {"datum": -0.046, "type": "quantitative", "scale": {"domain": [-0.0102, 0.995], "nice": false, "zero": false}, "axis": null},
     "x2": {"datum": 0.995},
     "y": {"field": "g", "type": "quantitative", "scale": {"domain": [1, 31], "reverse": true, "nice": false, "zero": false}, "axis": null}}},
   {"data": {"values": [{"base": 0.475}]},
    "mark": {"type": "rule", "color": "#999999", "strokeWidth": 1.5},
    "encoding": {
     "x": {"field": "base", "type": "quantitative", "axis": null},
     "y": {"datum": 1, "type": "quantitative", "axis": null},
     "y2": {"datum": 31}}},
   {"data": {"values": [{}]},
    "mark": {"type": "rule", "color": "#333333", "strokeWidth": 1},
    "encoding": {
     "x": {"datum": -0.046, "type": "quantitative", "axis": null},
     "x2": {"datum": 0.995},
     "y": {"datum": 31, "type": "quantitative", "axis": null}}},
   {"data": {"name": "lines"},
    "transform": [{"filter": "datum.p == 'k'"}, {"flatten": ["xs"], "as": ["x"]}, {"window": [{"op": "row_number", "as": "k"}], "groupby": ["id"]}],
    "mark": {"type": "line", "strokeWidth": 1.1},
    "encoding": {
     "x": {"field": "x", "type": "quantitative", "axis": {"orient": "bottom", "values": [0, 0.2, 0.4, 0.6, 0.8], "format": ".1f", "title": null, "domain": false}},
     "y": {"field": "k", "type": "quantitative", "axis": {"orient": "left", "values": [1.5,2.5,3.5,4.5,5.5,6.5,7.5,8.5,9.5,10.5,11.5,12.5,13.5,14.5,15.5,16.5,17.5,18.5,19.5,20.5,21.5,22.5,23.5,24.5,25.5,26.5,27.5,28.5,29.5,30.5], "labelExpr": "['RESOURCE_Size','DllCharacteristics','_initterm','MajorSubsystemVersion','msvcrt.dll','MajorImageVersion','regclosekey','setenvironmentvariablea','comparestringa','comctl32.dll','.data','BaseOfData','SizeOfInitializedData','virtualfree','SECURITY_Size','getconsolemode','localfree','getexitcodeprocess','gettimezoneinformation','exit','.rdata','LOAD_CONFIG_Size','writeconsolea','flushfilebuffers','lcmapstringa','getstringtypea','SizeOfStackReserve','getprocessheap','rtlunwind','filetimetolocalfiletime'][floor(datum.value)-1]", "title": null, "ticks": false, "labelPadding": 19}},
     "detail": {"field": "id", "type": "nominal"},
     "order": {"field": "k", "type": "quantitative"},
     "color": {"field": "out", "type": "quantitative", "scale": {"domain": [-0.046, 0.084, 0.214, 0.344, 0.475, 0.605, 0.735, 0.865, 0.995], "range": ["#008bfb","#0078f3","#4b63e3","#7d49cc","#9b23ad","#c2009c","#e00086","#f5006d","#ff0051"]}, "legend": null}}},
   {"data": {"values": [{}]},
    "mark": {"type": "rect", "fill": {"gradient": "linear", "x1": 0, "y1": 0, "x2": 1, "y2": 0, "stops": [{"offset": 0, "color": "#008bfb"}, {"offset": 0.125, "color": "#0078f3"}, {"offset": 0.25, "color": "#4b63e3"}, {"offset": 0.375, "color": "#7d49cc"}, {"offset": 0.5, "color": "#9b23ad"}, {"offset": 0.625, "color": "#c2009c"}, {"offset": 0.75, "color": "#e00086"}, {"offset": 0.875, "color": "#f5006d"}, {"offset": 1, "color": "#ff0051"}]}},
    "encoding": {
     "x": {"datum": -0.046, "type": "quantitative", "axis": {"orient": "top", "values": [0, 0.2, 0.4, 0.6, 0.8], "format": ".1f", "title": null, "ticks": true, "tickColor": "#ffffff", "tickSize": 65.3, "labelPadding": -55.3}},
     "x2": {"datum": 0.995},
     "y": {"datum": 0.68, "type": "quantitative", "axis": null},
     "y2": {"datum": 1}}}
  ]},
 {"width": 406, "height": 401,
  "title": {"text": "(l) Night Sky", "orient": "bottom", "frame": "bounds", "offset": 20.8, "dx": 12.5},
  "resolve": {"axis": {"x": "independent", "y": "independent"}},
  "layer": [
   {"data": {"values": [{"base": 0.475}]},
    "mark": {"type": "rule", "color": "#999999", "strokeWidth": 1.5},
    "encoding": {
     "x": {"field": "base", "type": "quantitative", "scale": {"domain": [-0.018, 0.966], "nice": false, "zero": false}, "axis": null},
     "y": {"datum": 1, "type": "quantitative", "scale": {"domain": [1, 31], "reverse": true, "nice": false, "zero": false}, "axis": {"orient": "right", "grid": true, "gridColor": "#c4c4c4", "gridDash": [1, 2.5], "gridWidth": 0.8, "labels": false, "ticks": false, "domain": false, "title": null, "values": [2,3,4,5,6,7,8,9,10,11,12,13,14,15,16,17,18,19,20,21,22,23,24,25,26,27,28,29,30], "minExtent": 0, "maxExtent": 0}},
     "y2": {"datum": 31}}},
   {"data": {"name": "lines"},
    "transform": [{"filter": "datum.p == 'l'"}, {"flatten": ["xs"], "as": ["x"]}, {"window": [{"op": "row_number", "as": "k"}], "groupby": ["id"]}],
    "mark": {"type": "line", "strokeWidth": 1.1},
    "encoding": {
     "x": {"field": "x", "type": "quantitative", "axis": {"orient": "bottom", "values": [0, 0.2, 0.4, 0.6, 0.8], "format": ".1f", "title": null}},
     "y": {"field": "k", "type": "quantitative", "axis": {"orient": "left", "values": [1.5,2.5,3.5,4.5,5.5,6.5,7.5,8.5,9.5,10.5,11.5,12.5,13.5,14.5,15.5,16.5,17.5,18.5,19.5,20.5,21.5,22.5,23.5,24.5,25.5,26.5,27.5,28.5,29.5,30.5], "labelExpr": "['RESOURCE_Size','MinorOperatingSystemVersion','DllCharacteristics','.rsrc','MinorSubsystemVersion','MajorImageVersion','Overlay','msvcrt.dll','comctl32.dll','MajorSubsystemVersion','_initterm','DEBUG_Size','kernel32.dll','DEBUG_VA','regclosekey','ImageBase','.rdata','exit','CheckSum','SizeOfStackReserve','.text','getcommandlinea','.pdata','setenvironmentvariablea','SizeOfOptionalHeader','Total','SECURITY_Size','Magic','flushfilebuffers','getmodulehandlea'][floor(datum.value)-1]", "title": null, "ticks": true, "tickColor": "#ffffff", "tickSize": 207, "labelPadding": -202}},
     "detail": {"field": "id", "type": "nominal"},
     "order": {"field": "k", "type": "quantitative"},
     "color": {"field": "out", "type": "quantitative", "scale": {"domain": [-0.018, 0.105, 0.228, 0.351, 0.474, 0.597, 0.720, 0.843, 0.966], "range": ["#008bfb","#0078f3","#4b63e3","#7d49cc","#9b23ad","#c2009c","#e00086","#f5006d","#ff0051"]}, "legend": null}}},
   {"data": {"values": [{}]},
    "mark": {"type": "rect", "fill": {"gradient": "linear", "x1": 0, "y1": 0, "x2": 1, "y2": 0, "stops": [{"offset": 0, "color": "#008bfb"}, {"offset": 0.125, "color": "#0078f3"}, {"offset": 0.25, "color": "#4b63e3"}, {"offset": 0.375, "color": "#7d49cc"}, {"offset": 0.5, "color": "#9b23ad"}, {"offset": 0.625, "color": "#c2009c"}, {"offset": 0.75, "color": "#e00086"}, {"offset": 0.875, "color": "#f5006d"}, {"offset": 1, "color": "#ff0051"}]}},
    "encoding": {
     "x": {"datum": -0.018, "type": "quantitative", "axis": {"orient": "top", "values": [0, 0.2, 0.4, 0.6, 0.8], "format": ".1f", "title": null, "ticks": true, "tickColor": "#ffffff", "tickSize": 65.3, "labelPadding": -55.3}},
     "x2": {"datum": 0.966},
     "y": {"datum": 0.68, "type": "quantitative", "axis": null},
     "y2": {"datum": 1}}}
  ]}
]},
{"columns": 2, "align": "none", "spacing": 10, "concat": [
 {"width": 408, "height": 410.9,
  "title": {"text": "(m) PlayCrypt", "orient": "bottom", "frame": "bounds", "offset": 20.8, "dx": 4},
  "resolve": {"axis": {"x": "independent", "y": "independent"}},
  "layer": [
   {"data": {"values": [{"base": 0.475}]},
    "mark": {"type": "rule", "color": "#999999", "strokeWidth": 1.5},
    "encoding": {
     "x": {"field": "base", "type": "quantitative", "scale": {"domain": [-0.075, 1.024], "nice": false, "zero": false}, "axis": null},
     "y": {"datum": 1, "type": "quantitative", "scale": {"domain": [0.221, 31], "reverse": true, "nice": false, "zero": false}, "axis": {"orient": "right", "grid": true, "gridColor": "#c4c4c4", "gridDash": [1, 2.5], "gridWidth": 0.8, "labels": false, "ticks": false, "domain": false, "title": null, "values": [2,3,4,5,6,7,8,9,10,11,12,13,14,15,16,17,18,19,20,21,22,23,24,25,26,27,28,29,30], "minExtent": 0, "maxExtent": 0}},
     "y2": {"datum": 31}}},
   {"data": {"name": "lines"},
    "transform": [{"filter": "datum.p == 'm'"}, {"flatten": ["xs"], "as": ["x"]}, {"window": [{"op": "row_number", "as": "k"}], "groupby": ["id"]}],
    "mark": {"type": "line", "strokeWidth": 1.1},
    "encoding": {
     "x": {"field": "x", "type": "quantitative", "axis": {"orient": "bottom", "values": [0, 0.2, 0.4, 0.6, 0.8, 1], "format": ".1f", "title": null}},
     "y": {"field": "k", "type": "quantitative", "axis": {"orient": "left", "values": [1.5,2.5,3.5,4.5,5.5,6.5,7.5,8.5,9.5,10.5,11.5,12.5,13.5,14.5,15.5,16.5,17.5,18.5,19.5,20.5,21.5,22.5,23.5,24.5,25.5,26.5,27.5,28.5,29.5,30.5], "labelExpr": "['RESOURCE_Size','_initterm','.rsrc','DllCharacteristics','msvcrt.dll','MajorImageVersion','comctl32.dll','LOAD_CONFIG_Size','exit','MinorLinkerVersion','MajorSubsystemVersion','SizeOfStackReserve','regclosekey','Overlay','rtlunwind','getconsolemode','getcommandlinea','SECURITY_Size','CheckSum','flushfilebuffers','isvalidcodepage','MajorOperatingSystemVersion','localfree','kernel32.dll','writeconsoleoutputattribute','.data','.reloc','DEBUG_VA','BaseOfData','_xcptfilter'][floor(datum.value)-1]", "title": null, "ticks": true, "tickColor": "#ffffff", "tickSize": 193, "labelPadding": -188}},
     "detail": {"field": "id", "type": "nominal"},
     "order": {"field": "k", "type": "quantitative"},
     "color": {"field": "out", "type": "quantitative", "scale": {"domain": [-0.075, 0.062, 0.200, 0.337, 0.475, 0.612, 0.749, 0.887, 1.024], "range": ["#008bfb","#0078f3","#4b63e3","#7d49cc","#9b23ad","#c2009c","#e00086","#f5006d","#ff0051"]}, "legend": null}}},
   {"data": {"values": [{}]},
    "mark": {"type": "rect", "fill": {"gradient": "linear", "x1": 0, "y1": 0, "x2": 1, "y2": 0, "stops": [{"offset": 0, "color": "#008bfb"}, {"offset": 0.125, "color": "#0078f3"}, {"offset": 0.25, "color": "#4b63e3"}, {"offset": 0.375, "color": "#7d49cc"}, {"offset": 0.5, "color": "#9b23ad"}, {"offset": 0.625, "color": "#c2009c"}, {"offset": 0.75, "color": "#e00086"}, {"offset": 0.875, "color": "#f5006d"}, {"offset": 1, "color": "#ff0051"}]}},
    "encoding": {
     "x": {"datum": -0.075, "type": "quantitative", "axis": {"orient": "top", "values": [0, 0.2, 0.4, 0.6, 0.8, 1], "format": ".1f", "title": null, "ticks": false, "labelPadding": -0.4}},
     "x2": {"datum": 1.024},
     "y": {"datum": 0.68, "type": "quantitative", "axis": null},
     "y2": {"datum": 1}}}
  ]},
 {"width": 410, "height": 409,
  "title": {"text": "(n) Quantum", "orient": "bottom", "frame": "bounds", "offset": 20.8, "dx": 3},
  "resolve": {"axis": {"x": "independent", "y": "independent"}},
  "layer": [
   {"data": {"values": [{"base": 0.475}]},
    "mark": {"type": "rule", "color": "#999999", "strokeWidth": 1.5},
    "encoding": {
     "x": {"field": "base", "type": "quantitative", "scale": {"domain": [-0.065, 1.02], "nice": false, "zero": false}, "axis": null},
     "y": {"datum": 1, "type": "quantitative", "scale": {"domain": [1, 31], "reverse": true, "nice": false, "zero": false}, "axis": {"orient": "right", "grid": true, "gridColor": "#c4c4c4", "gridDash": [1, 2.5], "gridWidth": 0.8, "labels": false, "ticks": false, "domain": false, "title": null, "values": [2,3,4,5,6,7,8,9,10,11,12,13,14,15,16,17,18,19,20,21,22,23,24,25,26,27,28,29,30], "minExtent": 0, "maxExtent": 0}},
     "y2": {"datum": 31}}},
   {"data": {"name": "lines"},
    "transform": [{"filter": "datum.p == 'n'"}, {"flatten": ["xs"], "as": ["x"]}, {"window": [{"op": "row_number", "as": "k"}], "groupby": ["id"]}],
    "mark": {"type": "line", "strokeWidth": 1.1},
    "encoding": {
     "x": {"field": "x", "type": "quantitative", "axis": {"orient": "bottom", "values": [0, 0.2, 0.4, 0.6, 0.8, 1], "format": ".1f", "title": null}},
     "y": {"field": "k", "type": "quantitative", "axis": {"orient": "left", "values": [1.5,2.5,3.5,4.5,5.5,6.5,7.5,8.5,9.5,10.5,11.5,12.5,13.5,14.5,15.5,16.5,17.5,18.5,19.5,20.5,21.5,22.5,23.5,24.5,25.5,26.5,27.5,28.5,29.5,30.5], "labelExpr": "['RESOURCE_Size','.rsrc','_initterm','DllCharacteristics','MajorImageVersion','lookupprivilegevaluea','comctl32.dll','msvcrt.dll','exit','SizeOfStackReserve','LOAD_CONFIG_Size','MajorSubsystemVersion','DEBUG_Size','CheckSum','regclosekey','lstrcmpia','DEBUG_VA','commandlinetoargvw','cryptimportkey','MinorLinkerVersion','ImageBase','activeds.dll','_vsnwprintf','shlwapi.dll','Overlay','_xcptfilter','initializecriticalsection','writeconsoleoutputattribute','cryptencrypt','cocreateinstance'][floor(datum.value)-1]", "title": null, "ticks": true, "tickColor": "#ffffff", "tickSize": 185.4, "labelPadding": -180.4}},
     "detail": {"field": "id", "type": "nominal"},
     "order": {"field": "k", "type": "quantitative"},
     "color": {"field": "out", "type": "quantitative", "scale": {"domain": [-0.065, 0.071, 0.206, 0.342, 0.478, 0.613, 0.749, 0.885, 1.02], "range": ["#008bfb","#0078f3","#4b63e3","#7d49cc","#9b23ad","#c2009c","#e00086","#f5006d","#ff0051"]}, "legend": null}}},
   {"data": {"values": [{}]},
    "mark": {"type": "rect", "fill": {"gradient": "linear", "x1": 0, "y1": 0, "x2": 1, "y2": 0, "stops": [{"offset": 0, "color": "#008bfb"}, {"offset": 0.125, "color": "#0078f3"}, {"offset": 0.25, "color": "#4b63e3"}, {"offset": 0.375, "color": "#7d49cc"}, {"offset": 0.5, "color": "#9b23ad"}, {"offset": 0.625, "color": "#c2009c"}, {"offset": 0.75, "color": "#e00086"}, {"offset": 0.875, "color": "#f5006d"}, {"offset": 1, "color": "#ff0051"}]}},
    "encoding": {
     "x": {"datum": -0.065, "type": "quantitative", "axis": {"orient": "top", "values": [0, 0.2, 0.4, 0.6, 0.8, 1], "format": ".1f", "title": null, "ticks": true, "tickColor": "#ffffff", "tickSize": 27.6, "labelPadding": -17.6}},
     "x2": {"datum": 1.02},
     "y": {"datum": 0.68, "type": "quantitative", "axis": null},
     "y2": {"datum": 1}}}
  ]}
]}
]
}
